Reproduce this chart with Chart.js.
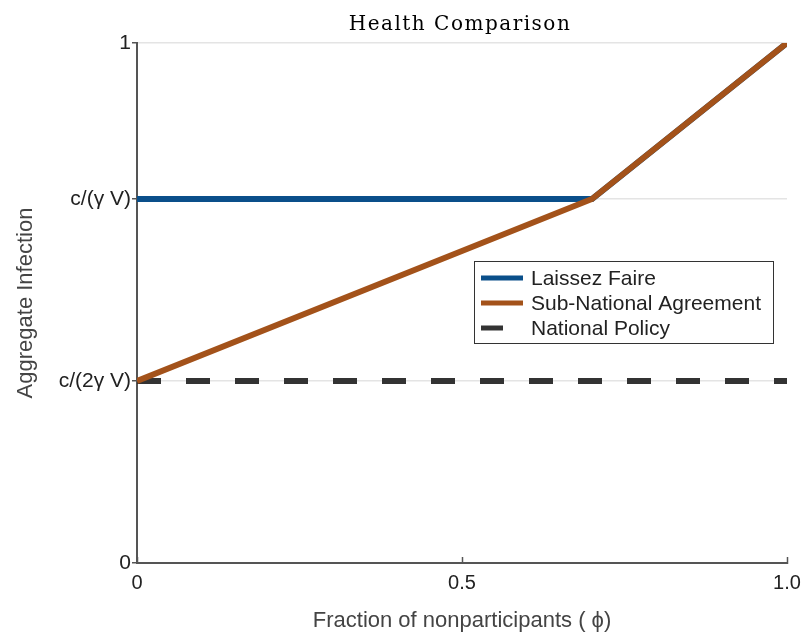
<!DOCTYPE html>
<html>
<head>
<meta charset="utf-8">
<script src="https://cdn.jsdelivr.net/npm/chart.js@4"></script>
<style>
  html, body { margin: 0; padding: 0; background: #fff; }
  #wrap { width: 802px; height: 635px; }
</style>
</head>
<body>
<div id="wrap"><canvas id="chart" width="802" height="635"></canvas></div>
<script>
// values
const phi = [0, 0.7, 1];
const laissezFaire = [0.7, 0.7, 1];
const subNational = [0.35, 0.7, 1];
const nationalPhi = [0, 1];
const nationalPolicy = [0.35, 0.35];

const yTickValues = [0, 0.35, 0.7, 1];
const yTickLabels = ["0", "c/(2\u03b3 V)", "c/(\u03b3 V)", "1"];
const xTickValues = [0, 0.5, 1];
const xTickLabels = ["0", "0.5", "1.0"];

const seriesNames = ["Laissez Faire", "Sub-National Agreement", "National Policy"];

const toPoints = (xs, ys) => xs.map((x, i) => ({ x: x, y: ys[i] }));

// title with wide letter spacing like the original
const titlePlugin = {
  id: "spacedTitle",
  afterDraw(chart) {
    const ctx = chart.ctx;
    const area = chart.chartArea;
    ctx.save();
    ctx.font = "20px 'DejaVu Serif'";
    ctx.fillStyle = "#000";
    ctx.textAlign = "center";
    ctx.textBaseline = "middle";
    if ("letterSpacing" in ctx) ctx.letterSpacing = "1.5px";
    ctx.fillText("Health Comparison", (area.left + area.right) / 2 - 2, 25);
    ctx.restore();
  }
};

// boxed legend inside the plot, drawn from the datasets
const legendPlugin = {
  id: "boxLegend",
  afterDraw(chart) {
    const ctx = chart.ctx;
    const x0 = 474, y0 = 261, w = 299, h = 82;
    ctx.save();
    ctx.fillStyle = "#fff";
    ctx.fillRect(x0, y0, w, h);
    ctx.strokeStyle = "#333";
    ctx.lineWidth = 1;
    ctx.strokeRect(x0 + 0.5, y0 + 0.5, w, h);
    [0, 1, 2].forEach((di, row) => {
      const ds = chart.data.datasets[di];
      const cy = y0 + 17 + row * 25;
      ctx.beginPath();
      ctx.strokeStyle = ds.borderColor;
      ctx.lineWidth = 5;
      ctx.setLineDash(ds.borderDash || []);
      ctx.moveTo(x0 + 7, cy);
      ctx.lineTo(ds.borderDash ? x0 + 29 : x0 + 49, cy);
      ctx.stroke();
      ctx.setLineDash([]);
      ctx.fillStyle = "#222";
      ctx.font = "21px 'Liberation Sans', Arial";
      ctx.textAlign = "left";
      ctx.textBaseline = "middle";
      ctx.fillText(ds.label, x0 + 57, cy + 1);
    });
    ctx.restore();
  }
};

const ctx = document.getElementById("chart").getContext("2d");

const chart = new Chart(ctx, {
  type: "scatter",
  data: {
    datasets: [{
      label: seriesNames[0],
      data: toPoints(phi, laissezFaire),
      borderColor: "#0a4f8a",
      borderWidth: 6,
      order: 3
    }, {
      label: seriesNames[1],
      data: toPoints(phi, subNational),
      borderColor: "#a3521a",
      borderWidth: 6,
      order: 1
    }, {
      label: seriesNames[2],
      data: toPoints(nationalPhi, nationalPolicy),
      borderColor: "#333333",
      borderWidth: 6,
      borderDash: [24, 25],
      order: 2
    }]
  },
  options: {
    responsive: false,
    animation: false,
    showLine: true,
    elements: {
      point: { radius: 0, hoverRadius: 0 },
      line: { tension: 0, borderCapStyle: "butt", borderJoinStyle: "miter" }
    },
    layout: { padding: { top: 43, right: 0, left: 0, bottom: 0 } },
    plugins: {
      legend: { display: false },
      title: { display: false },
      tooltip: { enabled: false }
    },
    scales: {
      x: {
        type: "linear",
        min: 0,
        max: 1,
        afterBuildTicks: scale => { scale.ticks = xTickValues.map(v => ({ value: v })); },
        afterFit: scale => {
          scale.height = 72;
          scale.paddingLeft = 0;
          scale.paddingRight = 15;
        },
        ticks: {
          callback: v => xTickLabels[xTickValues.indexOf(v)],
          color: "#222",
          font: { size: 20, family: "'Liberation Sans', Arial" },
          padding: 14,
          maxRotation: 0
        },
        grid: { drawOnChartArea: false, drawTicks: true, tickLength: -6, tickColor: "#555", tickWidth: 1.5 },
        border: { color: "#555", width: 2 },
        title: {
          display: true,
          text: "Fraction of nonparticipants ( \u03d5)",
          color: "#444",
          font: { size: 22, family: "'Liberation Sans', Arial" },
          padding: { top: 0, bottom: 1 }
        }
      },
      y: {
        type: "linear",
        min: 0,
        max: 1,
        afterBuildTicks: scale => { scale.ticks = yTickValues.map(v => ({ value: v })); },
        afterFit: scale => {
          scale.width = 137;
          scale.paddingTop = 0;
          scale.paddingBottom = 0;
        },
        ticks: {
          callback: v => yTickLabels[yTickValues.indexOf(v)],
          color: "#222",
          font: { size: 21, family: "'Liberation Sans', Arial" },
          padding: 1
        },
        grid: { color: "#e4e4e4", lineWidth: 1.5, tickLength: 5, tickColor: "#555", tickWidth: 1.5 },
        border: { color: "#555", width: 2 },
        title: {
          display: true,
          text: "Aggregate Infection",
          color: "#444",
          font: { size: 22, family: "'Liberation Sans', Arial" },
          padding: { top: 13, bottom: 0 }
        }
      }
    }
  },
  plugins: [titlePlugin, legendPlugin]
});
</script>
</body>
</html>
